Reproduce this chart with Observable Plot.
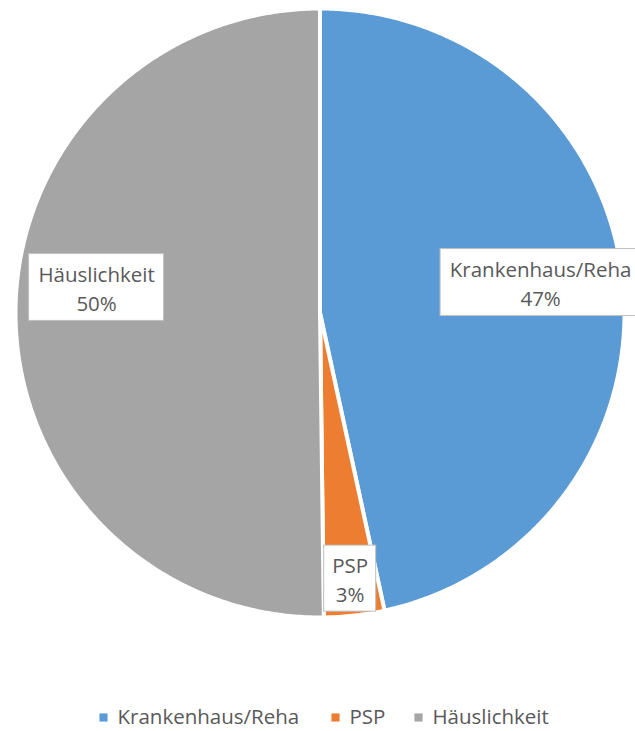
<!DOCTYPE html>
<html>
<head>
<meta charset="utf-8">
<script src="https://cdn.jsdelivr.net/npm/d3@7"></script>
<script src="https://cdn.jsdelivr.net/npm/@observablehq/plot@0.6"></script>
<style>
  html, body { margin: 0; padding: 0; background: #fff; }
  #chart svg { display: block; }
</style>
</head>
<body>
<div id="chart"></div>
<script>
// ---- data ----
const categories = ["Krankenhaus/Reha", "PSP", "Häuslichkeit"];
const values = [46.6, 3.2, 50.2];
const percentLabels = ["47%", "3%", "50%"];
const colors = ["#5B9BD5", "#ED7D31", "#A5A5A5"];

// ---- layout (pixels) ----
const W = 635, H = 731;
const cx = 319.5, cy = 312.5, R = 304.5;
const labelLayout = [
  {r: 0.722, dx: 2, dy: -7, w: 200, h: 67},
  {r: 0.878, dx: 0, dy: 0, w: 52, h: 66},
  {r: 0.737, dx: 1, dy: -27, w: 135, h: 67}
];
const fontSize = 20.5;
const textColor = "#595959";

const total = d3.sum(values);
let cum = 0;
const slices = categories.map((c, i) => {
  const a0 = cum / total * 2 * Math.PI;
  cum += values[i];
  const a1 = cum / total * 2 * Math.PI;
  return {name: c, a0, a1, color: colors[i], i};
});

// polygon points for each slice
const pts = [];
for (const s of slices) {
  pts.push({name: s.name, x: cx, y: cy});
  const n = Math.max(2, Math.ceil((s.a1 - s.a0) / (Math.PI / 360)));
  for (let k = 0; k <= n; k++) {
    const a = s.a0 + (s.a1 - s.a0) * k / n;
    pts.push({name: s.name, x: cx + R * Math.sin(a), y: cy - R * Math.cos(a)});
  }
  pts.push({name: s.name, x: cx, y: cy});
}

const labels = slices.map((s, i) => {
  const L = labelLayout[i];
  const m = (s.a0 + s.a1) / 2;
  const x = cx + L.r * R * Math.sin(m) + L.dx;
  const y = cy - L.r * R * Math.cos(m) + L.dy;
  return {
    text: s.name + "\n" + percentLabels[i],
    x, y,
    x1: x - L.w / 2, x2: x + L.w / 2,
    y1: y - L.h / 2, y2: y + L.h / 2
  };
});

// legend entries
const legendY = 717;
const legendX = [99, 331, 414];
const legend = categories.map((c, i) => ({name: c, x: legendX[i], y: legendY}));

const plot = Plot.plot({
  width: W,
  height: H,
  margin: 0,
  x: {domain: [0, W], range: [0, W], axis: null},
  y: {domain: [0, H], range: [0, H], axis: null},
  color: {domain: categories, range: colors},
  style: {fontFamily: "'Open Sans', sans-serif", background: "#fff"},
  marks: [
    Plot.line(pts, {x: "x", y: "y", z: "name", fill: "name", stroke: "#fff", strokeWidth: 4, strokeLinejoin: "round"}),
    Plot.rect(labels, {x1: "x1", x2: "x2", y1: "y1", y2: "y2", fill: "#fff", stroke: "#BFBFBF", strokeWidth: 1}),
    Plot.text(labels, {x: "x", y: "y", text: "text", fontSize: fontSize, fill: textColor, lineHeight: 1.4, textAnchor: "middle"}),
    Plot.dot(legend, {x: "x", y: "y", symbol: "square", r: 4.6, fill: "name", stroke: null, dx: 4}),
    Plot.text(legend, {x: "x", y: "y", text: "name", fontSize: fontSize, fill: textColor, textAnchor: "start", dx: 18})
  ]
});
document.getElementById("chart").appendChild(plot);
</script>
</body>
</html>
